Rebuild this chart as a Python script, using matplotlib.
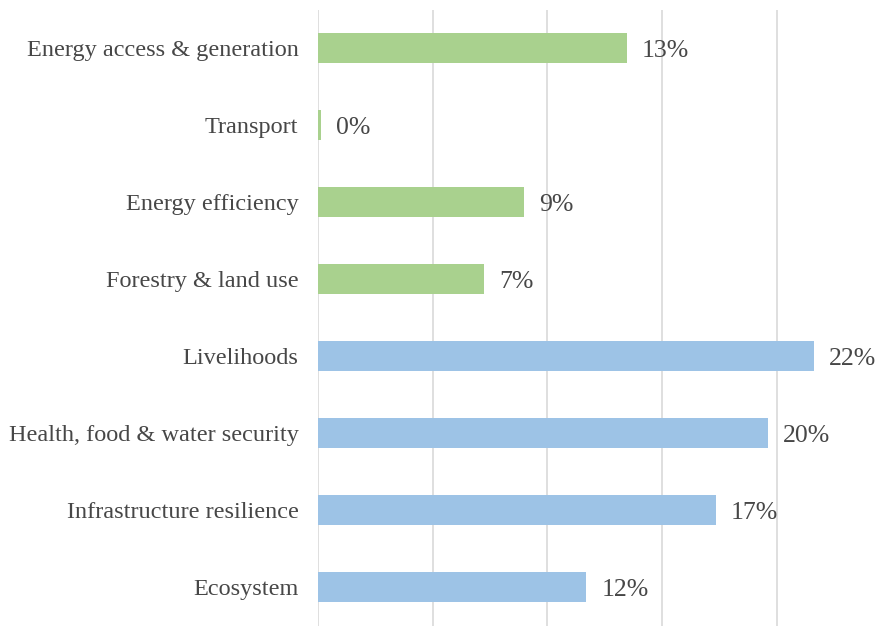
import numpy as np
import matplotlib.pyplot as plt

categories = ['Energy access & generation', 'Transport', 'Energy efficiency',
              'Forestry & land use', 'Livelihoods', 'Health, food & water security',
              'Infrastructure resilience', 'Ecosystem']
values = [13.45, 0.13, 9.0, 7.25, 21.6, 19.6, 17.35, 11.7]
groups = ['mitigation'] * 4 + ['adaptation'] * 4
group_colors = {'mitigation': '#A9D18E', 'adaptation': '#9DC3E6'}
grid_ticks = [0, 5, 10, 15, 20]

fam = ['Liberation Serif', 'DejaVu Serif']
txt = '#474747'

fig = plt.figure(figsize=(8.77, 6.26), dpi=100)
ax = fig.add_axes([318 / 877, 0, 1 - 318 / 877, 1 - 9.5 / 626])

y = np.arange(len(categories))
ax.barh(y, values, height=0.39, color=[group_colors[g] for g in groups], zorder=3)

for yi, v in zip(y, values):
    ax.text(v + 0.65, yi, f'{v:.0f}%', va='center_baseline', ha='left',
            fontsize=18.5, color=txt, family=fam)

ax.set_ylim(len(categories) - 0.5, -0.5)
ax.set_xlim(0, (877 - 318) / 22.94)
ax.set_xticks(grid_ticks)
ax.set_xticklabels([])
ax.set_yticks(y)
ax.set_yticklabels(categories, fontsize=17.5, color=txt, family=fam)
ax.tick_params(axis='both', length=0)
ax.tick_params(axis='y', pad=14)
ax.grid(axis='x', color='#D9D9D9', linewidth=1.2, zorder=0)
for s in ax.spines.values():
    s.set_visible(False)

fig.savefig('out.png', dpi=100)
